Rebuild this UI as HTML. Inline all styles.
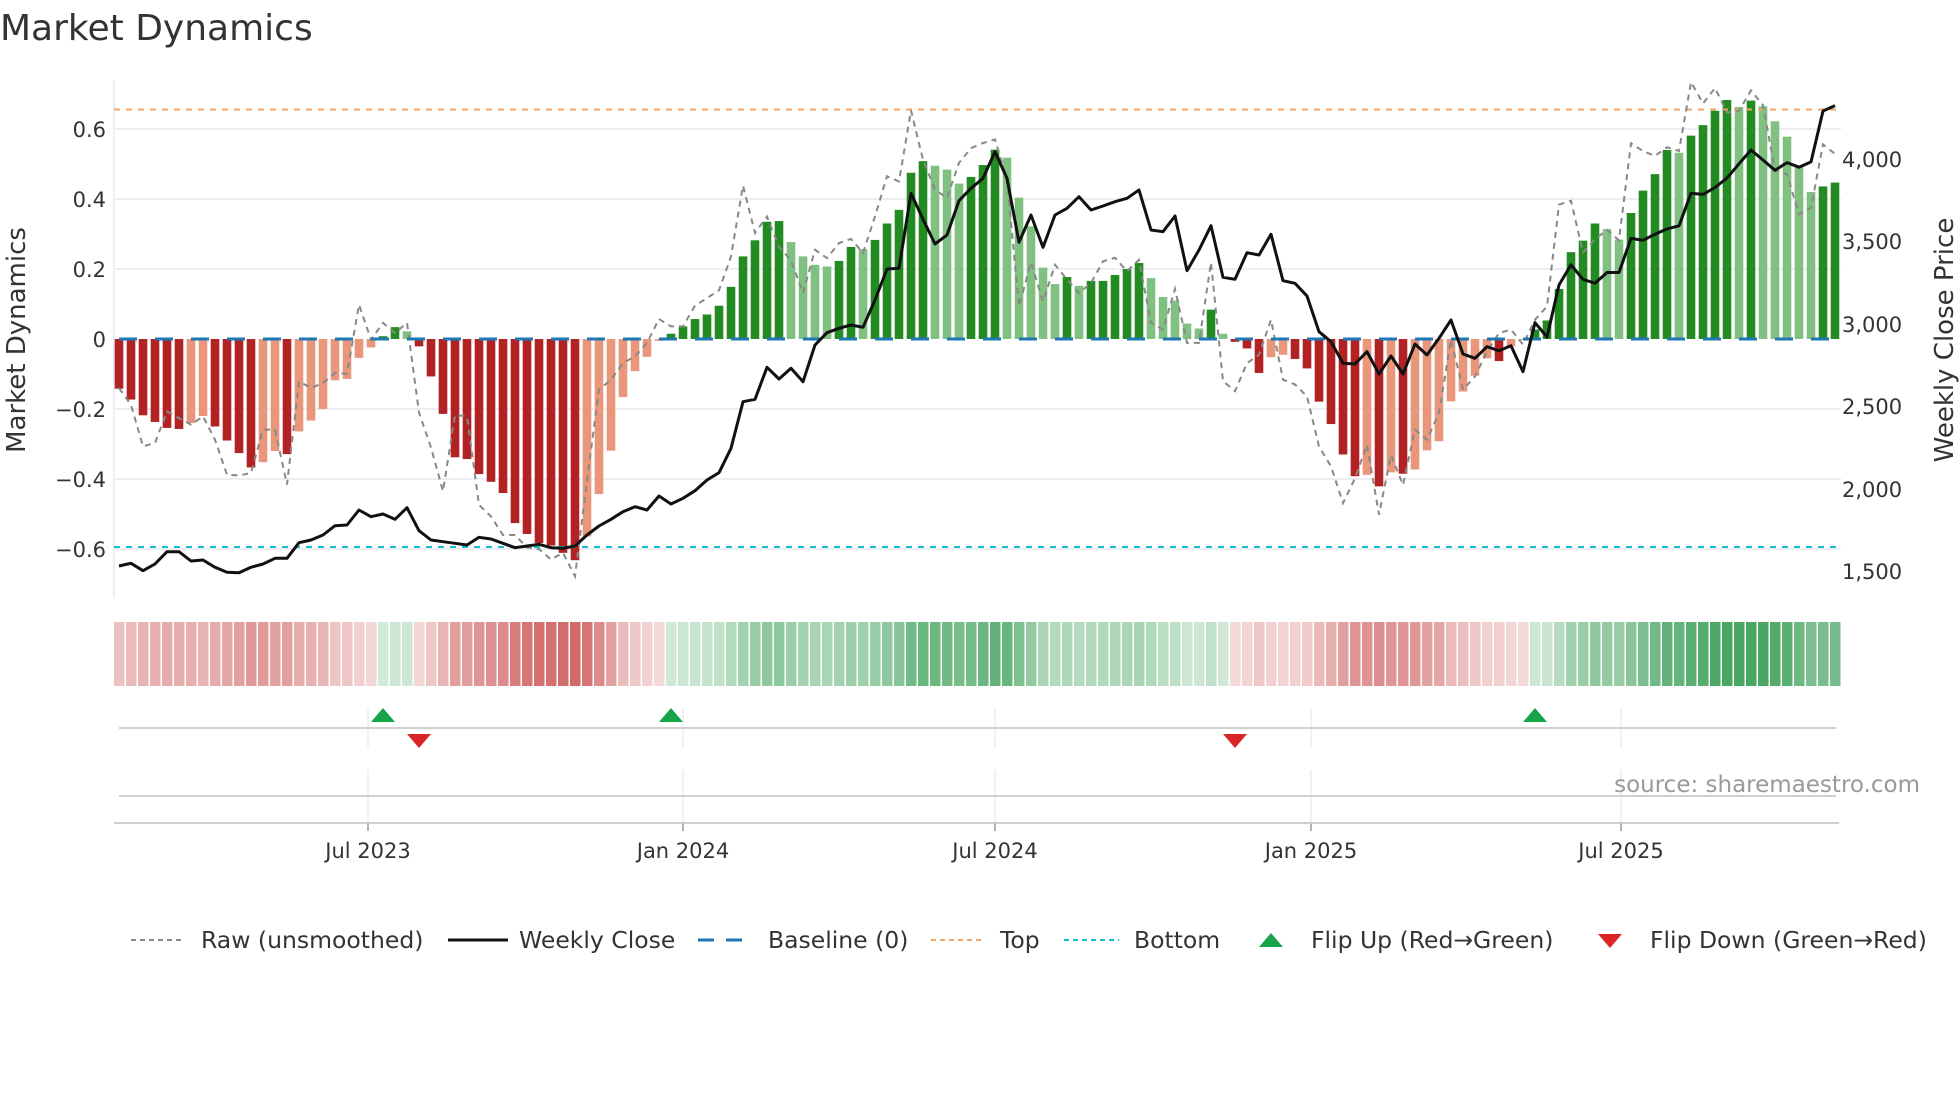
<!DOCTYPE html>
<html><head><meta charset="utf-8"><style>
html,body{margin:0;padding:0;background:#fff;}
svg{display:block;font-family:"DejaVu Sans","Liberation Sans",sans-serif;}
</style></head><body>
<svg id="s" width="1960" height="1102" viewBox="0 0 1960 1102" xmlns="http://www.w3.org/2000/svg">
<rect width="1960" height="1102" fill="#fff"/>
<g id="grid"></g>
<g id="strip"></g>
<g id="bars"></g>
<g id="lines"></g>
<text x="0" y="40" font-size="36" fill="#333">Market Dynamics</text>
<g font-size="21" fill="#333" text-anchor="end">
<text x="106" y="137">0.6</text><text x="106" y="207">0.4</text><text x="106" y="277">0.2</text><text x="106" y="347">0</text>
<text x="106" y="417">−0.2</text><text x="106" y="487">−0.4</text><text x="106" y="557">−0.6</text>
</g>
<g font-size="21" fill="#333" text-anchor="start">
<text x="1842" y="167">4,000</text><text x="1842" y="249">3,500</text><text x="1842" y="332">3,000</text>
<text x="1842" y="414">2,500</text><text x="1842" y="497">2,000</text><text x="1842" y="579">1,500</text>
</g>
<text transform="translate(25,340) rotate(-90)" font-size="26" fill="#333" text-anchor="middle">Market Dynamics</text>
<text transform="translate(1953,340) rotate(-90)" font-size="26" fill="#333" text-anchor="middle">Weekly Close Price</text>
<g font-size="21" fill="#333" text-anchor="middle">
<text x="368" y="858">Jul 2023</text><text x="683" y="858">Jan 2024</text><text x="995" y="858">Jul 2024</text>
<text x="1311" y="858">Jan 2025</text><text x="1621" y="858">Jul 2025</text>
</g>
<text x="1920" y="792" font-size="23" fill="#999" text-anchor="end">source: sharemaestro.com</text>
<g font-size="23.5" fill="#333">
<line x1="131" y1="940" x2="185" y2="940" stroke="#888" stroke-width="2" stroke-dasharray="5,4"/>
<text x="201" y="948">Raw (unsmoothed)</text>
<line x1="448" y1="940" x2="508" y2="940" stroke="#111" stroke-width="3"/>
<text x="519" y="948">Weekly Close</text>
<line x1="698" y1="940" x2="751" y2="940" stroke="#1f77b4" stroke-width="3" stroke-dasharray="16,12"/>
<text x="768" y="948">Baseline (0)</text>
<line x1="931" y1="940" x2="985" y2="940" stroke="#f4a460" stroke-width="2" stroke-dasharray="5,4"/>
<text x="1000" y="948">Top</text>
<line x1="1064" y1="940" x2="1119" y2="940" stroke="#17becf" stroke-width="2" stroke-dasharray="5,4"/>
<text x="1134" y="948">Bottom</text>
<polygon points="1259,947 1283,947 1271,933" fill="#16a34a"/>
<text x="1311" y="948">Flip Up (Red→Green)</text>
<polygon points="1598,934 1622,934 1610,948" fill="#dc2626"/>
<text x="1650" y="948">Flip Down (Green→Red)</text>
</g>
</svg>
<script>
const NS="http://www.w3.org/2000/svg";
function el(p,t,a){const e=document.createElementNS(NS,t);for(const k in a)e.setAttribute(k,a[k]);document.getElementById(p).appendChild(e);return e;}
const V=[-0.142,-0.173,-0.218,-0.237,-0.254,-0.257,-0.24,-0.22,-0.25,-0.29,-0.326,-0.367,-0.352,-0.32,-0.329,-0.264,-0.233,-0.2,-0.118,-0.114,-0.054,-0.024,0.008,0.034,0.022,-0.021,-0.107,-0.214,-0.338,-0.343,-0.386,-0.408,-0.44,-0.526,-0.557,-0.583,-0.59,-0.611,-0.632,-0.564,
-0.443,-0.319,-0.166,-0.092,-0.051,-0.005,0.015,0.036,0.057,0.07,0.095,0.149,0.236,0.282,0.335,0.337,0.277,0.236,0.212,0.207,0.223,0.263,0.257,0.283,0.33,0.369,0.475,0.508,0.495,0.484,0.444,0.463,0.497,0.541,0.518,0.404,0.322,0.204,0.157,
0.177,0.152,0.166,0.166,0.183,0.2,0.217,0.174,0.12,0.11,0.044,0.03,0.084,0.015,-0.008,-0.027,-0.097,-0.052,-0.045,-0.057,-0.084,-0.179,-0.243,-0.33,-0.392,-0.388,-0.421,-0.381,-0.385,-0.373,-0.318,-0.292,-0.178,-0.15,-0.105,-0.055,-0.063,-0.021,-0.003,
0.027,0.053,0.143,0.248,0.281,0.33,0.314,0.284,0.36,0.424,0.471,0.54,0.532,0.581,0.611,0.652,0.683,0.663,0.681,0.665,0.622,0.578,0.49,0.42,0.436,0.447];
const D="DDDDDDLLDDDDLLDLLLLLLLDDLDDDDDDDDDDDDDDLLLLLLLDDDDDDDDDDLLLLDDLDDDDDLLLDDDLLLLLDLDDDDDLLLLLDLDDDLLDDDDDDLDLDLLLLLLLDLLDDDDDDLLDDDDLDDDDLDLLLLLDD";
const R=[-0.14,-0.188,-0.307,-0.297,-0.207,-0.226,-0.245,-0.221,-0.288,-0.388,-0.39,-0.383,-0.259,-0.259,-0.416,-0.121,-0.14,-0.126,-0.097,-0.099,0.098,-0.002,0.046,0.017,0.046,-0.21,-0.31,-0.435,-0.217,-0.221,-0.474,-0.507,-0.56,-0.56,-0.596,-0.6,-0.63,-0.611,-0.678,-0.404,
-0.145,-0.116,-0.069,-0.05,-0.011,0.057,0.036,0.036,0.095,0.117,0.139,0.236,0.438,0.303,0.35,0.263,0.225,0.131,0.255,0.231,0.274,0.286,0.246,0.35,0.465,0.45,0.653,0.512,0.427,0.403,0.503,0.545,0.56,0.57,0.455,0.093,0.219,0.107,0.212,
0.17,0.131,0.16,0.222,0.232,0.194,0.226,0.046,0.027,0.143,-0.011,-0.011,0.219,-0.12,-0.149,-0.069,-0.045,0.055,-0.116,-0.13,-0.164,-0.307,-0.364,-0.469,-0.398,-0.302,-0.502,-0.331,-0.417,-0.259,-0.288,-0.211,-0.002,-0.145,-0.107,-0.036,0.017,0.027,-0.016,
0.055,0.093,0.384,0.395,0.247,0.285,0.312,0.282,0.559,0.537,0.523,0.548,0.537,0.734,0.673,0.717,0.647,0.652,0.71,0.668,0.482,0.471,0.356,0.375,0.556,0.529];
const P=[566,563.3,570.7,564,551.7,551.7,561,560,567.3,572.3,572.7,567.3,564,558.3,558.3,542.7,540,535,525.7,525,510,516.7,514,519.3,507.7,530.7,540,541.7,543.3,545,537.3,539,543.3,547.7,546,544.3,547.7,548.3,546,535,
526,519.3,511.7,506.7,510,496,504,498.3,490.7,480,472.7,448.3,401.7,399.3,367.3,379,368.3,381.7,345,332.7,328.3,325,327.3,300,269,268.3,193.3,219.3,244,235,200.7,188.3,178.3,151.7,178.3,242.3,215,247.3,215,
208.3,196.7,210,206,201.7,198.3,190,230,231.7,216,270.7,250,225.7,277.3,279.3,252.7,255,234.3,280.7,283.3,296,331.7,341.7,363.3,364,351.7,374,356,374,344,355,338.3,320,354,358.3,346.7,350.7,345.7,371.7,
322.7,337,285,264.8,279.4,283.2,272.5,272.5,238.4,240.3,234.2,228.9,225.8,193.3,194.4,187.5,178,163.8,150,160,170.3,162.6,167.2,161.9,111,105.6];
const Z=339,U=350,X=i=>119+12*i;
for(const v of [0.6,0.4,0.2,-0.2,-0.4,-0.6]){const y=Z-v*U;el("grid","line",{x1:114,x2:1841,y1:y,y2:y,stroke:"#eceef3","stroke-width":2});}
el("grid","line",{x1:114,x2:114,y1:80,y2:598,stroke:"#eceef3","stroke-width":2});
for(const x of [368,683,995,1311,1621]){
 el("grid","line",{x1:x,x2:x,y1:708,y2:748,stroke:"#ececec","stroke-width":1.5});
 el("grid","line",{x1:x,x2:x,y1:770,y2:823,stroke:"#ececec","stroke-width":1.5});
 el("grid","line",{x1:x,x2:x,y1:823,y2:831,stroke:"#999","stroke-width":1.5});
}
el("grid","line",{x1:119,x2:1836,y1:728,y2:728,stroke:"#d0d0d0","stroke-width":2});
el("grid","line",{x1:119,x2:1836,y1:796,y2:796,stroke:"#d0d0d0","stroke-width":2});
el("grid","line",{x1:114,x2:1839,y1:823,y2:823,stroke:"#cfcfcf","stroke-width":2});
for(let i=0;i<V.length;i++){
 const v=V[i],a=Math.min(0.85,0.2+0.97*Math.abs(v));
 const b=v<0?[200,70,70]:[40,150,70];
 const c=b.map(k=>Math.round(255*(1-a)+k*a));
 el("strip","rect",{x:114+12*i,y:622,width:10.5,height:64,fill:`rgb(${c})`});
}
for(let i=0;i<V.length;i++){
 const v=V[i],h=Math.abs(v)*U,y=v<0?Z:Z-h;
 const c=v<0?(D[i]=="D"?"#b22222":"#e9967a"):(D[i]=="D"?"#228b22":"#80c080");
 el("bars","rect",{x:X(i)-4.3,y:y,width:8.6,height:Math.max(h,0.5),fill:c});
}
el("lines","line",{x1:114,x2:1841,y1:109.5,y2:109.5,stroke:"#f4a460","stroke-width":2,"stroke-dasharray":"6,6"});
el("lines","line",{x1:114,x2:1841,y1:547,y2:547,stroke:"#17becf","stroke-width":2,"stroke-dasharray":"6,6"});
el("lines","polyline",{points:R.map((v,i)=>X(i)+","+(Z-v*U)).join(" "),fill:"none",stroke:"#888","stroke-width":2,"stroke-dasharray":"6,5"});
el("lines","line",{x1:119,x2:1836,y1:Z,y2:Z,stroke:"#1f77b4","stroke-width":3,"stroke-dasharray":"18,18"});
el("lines","polyline",{points:P.map((y,i)=>X(i)+","+y).join(" "),fill:"none",stroke:"#111","stroke-width":3,"stroke-linejoin":"round"});
for(const i of [22,46,118]){const x=X(i);el("lines","polygon",{points:`${x-12},722 ${x+12},722 ${x},708`,fill:"#16a34a"});}
for(const i of [25,93]){const x=X(i);el("lines","polygon",{points:`${x-12},734 ${x+12},734 ${x},748`,fill:"#dc2626"});}
</script>
</body></html>
